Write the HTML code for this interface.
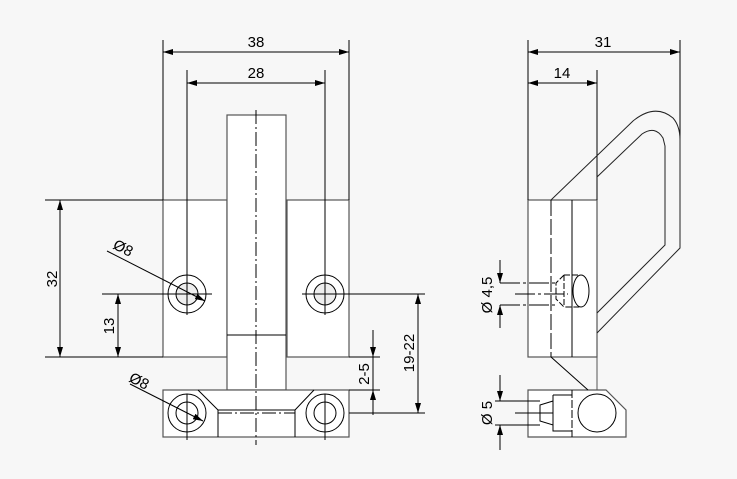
<!DOCTYPE html>
<html><head><style>body{margin:0;background:#f7f7f7}svg{display:block}</style></head><body>
<svg width="737" height="479" viewBox="0 0 737 479" xmlns="http://www.w3.org/2000/svg" font-family="Liberation Sans, sans-serif" font-size="15">
<defs><marker id="a" markerWidth="10" markerHeight="6" refX="10" refY="3" orient="auto-start-reverse" markerUnits="userSpaceOnUse"><path d="M0,0 L10,3 L0,6z" fill="#000"/></marker></defs>
<rect width="737" height="479" fill="#f7f7f7"/>
<g fill="#fff" stroke="#555" stroke-width="1.2">
<rect x="163" y="200" width="64" height="157"/>
<rect x="287" y="200" width="62" height="157"/>
<rect x="227" y="115" width="59" height="275"/>
<rect x="163" y="390" width="186" height="47"/>
<rect x="528" y="200" width="69" height="157"/>
<polygon points="528,390 606,390 626,410 626,437 528,437"/>
</g>
<g fill="none" stroke="#000" stroke-width="1">
<line x1="227" y1="335" x2="286" y2="335"/>
<path d="M198,390 L218,410 L295,410 L314,390"/>
<line x1="218" y1="410" x2="218" y2="437"/><line x1="295" y1="410" x2="295" y2="437"/>
<circle cx="187" cy="294" r="19"/><circle cx="187" cy="294" r="11" fill="#eee"/>
<circle cx="325" cy="294" r="19"/><circle cx="325" cy="294" r="11" fill="#eee"/>
<circle cx="187" cy="413" r="19"/><circle cx="187" cy="413" r="11"/>
<circle cx="325" cy="413" r="19"/><circle cx="325" cy="413" r="11"/>
<line x1="256" y1="110" x2="256" y2="445" stroke-dasharray="14,3,2,3"/>
<line x1="218" y1="413" x2="295" y2="413" stroke-dasharray="14,3,2,3"/>
<line x1="163" y1="200" x2="163" y2="40"/><line x1="349" y1="200" x2="349" y2="40"/>
<line x1="187" y1="315" x2="187" y2="70"/><line x1="325" y1="315" x2="325" y2="70"/>
<line x1="187" y1="394" x2="187" y2="440"/><line x1="325" y1="394" x2="325" y2="440"/>
<line x1="163" y1="52" x2="349" y2="52" marker-start="url(#a)" marker-end="url(#a)"/>
<line x1="187" y1="83" x2="325" y2="83" marker-start="url(#a)" marker-end="url(#a)"/>
<line x1="45" y1="200" x2="163" y2="200"/><line x1="45" y1="357" x2="163" y2="357"/>
<line x1="60" y1="200" x2="60" y2="357" marker-start="url(#a)" marker-end="url(#a)"/>
<line x1="102" y1="294" x2="212" y2="294"/>
<line x1="118" y1="294" x2="118" y2="357" marker-start="url(#a)" marker-end="url(#a)"/>
<line x1="302" y1="294" x2="425" y2="294"/><line x1="349" y1="413" x2="425" y2="413"/>
<line x1="418" y1="294" x2="418" y2="413" marker-start="url(#a)" marker-end="url(#a)"/>
<line x1="349" y1="357" x2="380" y2="357"/><line x1="349" y1="390" x2="380" y2="390"/>
<line x1="373" y1="330" x2="373" y2="357" marker-end="url(#a)"/>
<line x1="373" y1="357" x2="373" y2="390"/>
<line x1="373" y1="415" x2="373" y2="390" marker-end="url(#a)"/>
<line x1="107" y1="251" x2="205" y2="301" marker-end="url(#a)"/>
<line x1="130" y1="384" x2="203" y2="421" marker-end="url(#a)"/>
<line x1="528" y1="200" x2="528" y2="40"/><line x1="597" y1="200" x2="597" y2="70"/>
<line x1="680" y1="140" x2="680" y2="40"/>
<line x1="528" y1="52" x2="680" y2="52" marker-start="url(#a)" marker-end="url(#a)"/>
<line x1="528" y1="83" x2="597" y2="83" marker-start="url(#a)" marker-end="url(#a)"/>
<path d="M551,200 L633,121 Q655,103 673,118 Q680,126 680,140 L680,248 L597,333" stroke="#222"/>
<path d="M597,177 L642,134 Q655,125 663,138 L665,146 L665,245 L597,313" stroke="#222"/>
<line x1="551" y1="200" x2="551" y2="357" stroke-dasharray="16,3"/>
<line x1="572" y1="200" x2="572" y2="357"/>
<line x1="551" y1="357" x2="588" y2="390"/>
<line x1="597" y1="357" x2="597" y2="390" stroke="#555"/>
<circle cx="597" cy="413" r="19"/>
<line x1="572" y1="390" x2="572" y2="437" stroke-dasharray="8,2"/>
<path d="M553,401 L540,405 L540,421 L553,425 Z M553,395 L553,431 L572,431 M553,395 L572,395"/>
<line x1="495" y1="401" x2="540" y2="401"/><line x1="495" y1="425" x2="540" y2="425"/>
<line x1="515" y1="413" x2="553" y2="413"/>
<line x1="500" y1="375" x2="500" y2="401" marker-end="url(#a)"/>
<line x1="500" y1="450" x2="500" y2="425" marker-end="url(#a)"/>
<path d="M564,275 L556,283 L556,299 L564,307 L580,307 M564,275 L580,275 M564,275 L564,307" stroke-dasharray="6,2"/>
<ellipse cx="581" cy="291" rx="8" ry="16"/>
<line x1="500" y1="283" x2="556" y2="283" stroke-dasharray="20,3,3,3"/>
<line x1="500" y1="305" x2="556" y2="305" stroke-dasharray="20,3,3,3"/>
<line x1="515" y1="294" x2="568" y2="294" stroke-dasharray="20,3,3,3"/>
<line x1="500" y1="260" x2="500" y2="283" marker-end="url(#a)"/>
<line x1="500" y1="328" x2="500" y2="305" marker-end="url(#a)"/>
</g>
<g fill="#000">
<text x="256" y="47" text-anchor="middle">38</text>
<text x="256" y="78" text-anchor="middle">28</text>
<text transform="translate(57,279) rotate(-90)" text-anchor="middle">32</text>
<text transform="translate(114,326) rotate(-90)" text-anchor="middle">13</text>
<text transform="translate(414,353) rotate(-90)" text-anchor="middle">19-22</text>
<text transform="translate(369,374) rotate(-90)" text-anchor="middle">2-5</text>
<text transform="translate(112,248) rotate(27)">Ø8</text>
<text transform="translate(128,381) rotate(27)">Ø8</text>
<text x="603" y="47" text-anchor="middle">31</text>
<text x="562" y="78" text-anchor="middle">14</text>
<text transform="translate(492,295) rotate(-90)" text-anchor="middle">Ø 4,5</text>
<text transform="translate(492,413) rotate(-90)" text-anchor="middle">Ø 5</text>
</g>
</svg>
</body></html>
